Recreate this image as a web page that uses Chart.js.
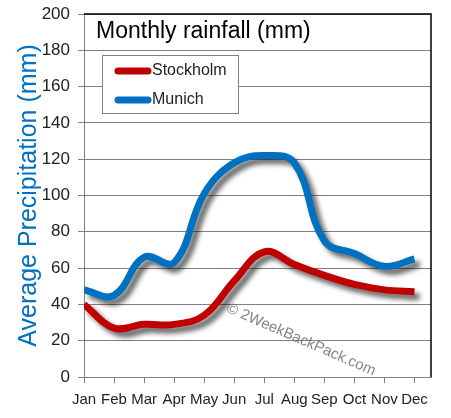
<!DOCTYPE html>
<html>
<head>
<meta charset="utf-8">
<script src="https://cdn.jsdelivr.net/npm/chart.js@4/dist/chart.umd.min.js"></script>
<style>
  html, body { margin: 0; padding: 0; background: #fff; }
  #wrap { width: 451px; height: 418px; }
</style>
</head>
<body>
<div id="wrap"><canvas id="rainChart" width="451" height="418"></canvas></div>
<script>
const months = ["Jan", "Feb", "Mar", "Apr", "May", "Jun", "Jul", "Aug", "Sep", "Oct", "Nov", "Dec"];
const stockholm = [40, 27, 29, 29, 34, 53, 69, 62, 56, 51, 48, 47];
const munich = [48, 45, 66, 63, 101, 118, 122, 118, 75, 68, 61, 65];
const yTicks = [0, 20, 40, 60, 80, 100, 120, 140, 160, 180, 200];

const FONT = "'Liberation Sans', 'DejaVu Sans', sans-serif";

// soft drop shadow under each line
const shadowPlugin = {
  id: "lineShadow",
  beforeDatasetDraw(chart) {
    const ctx = chart.ctx;
    ctx.save();
    ctx.shadowColor = "rgba(0,0,0,0.6)";
    ctx.shadowOffsetX = 5;
    ctx.shadowOffsetY = 5;
    ctx.shadowBlur = 5;
  },
  afterDatasetDraw(chart) {
    chart.ctx.restore();
  }
};

// frame, title, legend box and watermark
const decorPlugin = {
  id: "decor",
  afterDraw(chart) {
    const ctx = chart.ctx;
    const a = chart.chartArea;
    ctx.save();
    ctx.strokeStyle = "#000";
    ctx.lineWidth = 1.5;
    ctx.beginPath();
    ctx.moveTo(a.left, a.top);
    ctx.lineTo(a.right, a.top);
    ctx.lineTo(a.right, a.bottom);
    ctx.stroke();

    ctx.fillStyle = "#000";
    ctx.font = "23px " + FONT;
    ctx.textBaseline = "middle";
    ctx.fillText("Monthly rainfall (mm)", a.left + 12, 32);

    // legend
    const lx = 102, ly = 55, lw = 136, lh = 58;
    ctx.fillStyle = "#fff";
    ctx.fillRect(lx, ly, lw, lh);
    ctx.strokeStyle = "#808080";
    ctx.lineWidth = 1;
    ctx.strokeRect(lx + 0.5, ly + 0.5, lw, lh);
    chart.data.datasets.forEach((ds, i) => {
      const y = ly + 16 + i * 29;
      ctx.strokeStyle = ds.borderColor;
      ctx.lineWidth = 7;
      ctx.lineCap = "round";
      ctx.beginPath();
      ctx.moveTo(lx + 16, y);
      ctx.lineTo(lx + 46, y);
      ctx.stroke();
      ctx.fillStyle = "#222";
      ctx.font = "16px " + FONT;
      ctx.fillText(ds.label, lx + 50, y);
    });

    // watermark
    ctx.translate(228, 306);
    ctx.rotate(23.5 * Math.PI / 180);
    ctx.fillStyle = "rgba(110,110,110,0.85)";
    ctx.font = "15px " + FONT;
    ctx.textBaseline = "alphabetic";
    ctx.fillText("\u00A9 2WeekBackPack.com", 0, 6);
    ctx.restore();
  }
};

const toPoints = arr => arr.map((v, i) => ({ x: i, y: v }));

new Chart(document.getElementById("rainChart"), {
  type: "line",
  data: {
    datasets: [
      { label: "Stockholm", data: toPoints(stockholm), borderColor: "#C00000", borderWidth: 7, tension: 0.4, pointRadius: 0, fill: false, order: 1 },
      { label: "Munich", data: toPoints(munich), borderColor: "#0070C0", borderWidth: 7, tension: 0.4, pointRadius: 0, fill: false, order: 2 }
    ]
  },
  options: {
    responsive: false,
    animation: false,
    layout: { padding: { top: 14, right: 20, left: 0, bottom: 0 } },
    plugins: { legend: { display: false }, tooltip: { enabled: false } },
    scales: {
      x: {
        type: "linear",
        min: 0,
        max: 11.55,
        afterBuildTicks: s => { s.ticks = months.map((m, i) => ({ value: i })); },
        afterFit: s => { s.height = 41; s.paddingLeft = 0; s.paddingRight = 0; },
        ticks: {
          callback: v => months[v],
          color: "#222",
          font: { family: FONT, size: 15 },
          padding: 8,
          maxRotation: 0,
          autoSkip: false
        },
        grid: { drawOnChartArea: false, color: "#808080", tickLength: 6 },
        border: { color: "#808080" }
      },
      y: {
        min: 0,
        max: 200,
        afterBuildTicks: s => { s.ticks = yTicks.map(v => ({ value: v })); },
        afterFit: s => { s.width = 84; s.paddingTop = 0; s.paddingBottom = 0; },
        ticks: {
          color: "#222",
          font: { family: FONT, size: 17 },
          padding: 8
        },
        grid: { color: "#808080", tickLength: 6 },
        border: { color: "#808080" },
        title: {
          display: true,
          text: "Average Precipitation (mm)",
          color: "#0070C0",
          font: { family: FONT, size: 25 },
          padding: { top: 14, bottom: 0 }
        }
      }
    }
  },
  plugins: [shadowPlugin, decorPlugin]
});
</script>
</body>
</html>
